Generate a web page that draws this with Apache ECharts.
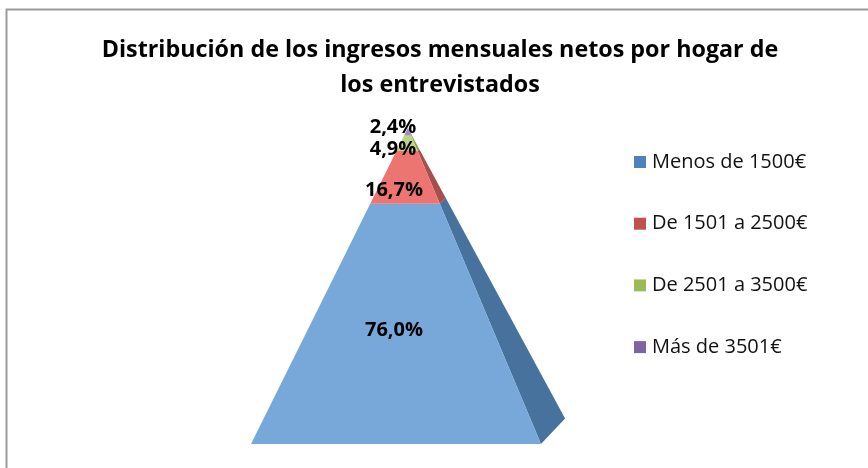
<!DOCTYPE html>
<html><head><meta charset="utf-8">
<style>html,body{margin:0;padding:0;background:#fff}#c{width:868px;height:468px}</style>
<script src="https://cdn.jsdelivr.net/npm/echarts@6/dist/echarts.min.js"></script>
</head><body><div id="c"></div>
<script>
const titleText = 'Distribución de los ingresos mensuales netos por hogar de\nlos entrevistados';
const categories = ['Menos de 1500€', 'De 1501 a 2500€', 'De 2501 a 3500€', 'Más de 3501€'];
const values = [76.0, 16.7, 4.9, 2.4];
const legendColors = ['#4F81BD', '#C0504D', '#9BBB59', '#8064A2'];
const frontColors = ['#78A8DA', '#EC7572', '#BCD67F', '#A687C8'];
const sideColors = ['#47729E', '#A64F4D', '#87A04F', '#6E5590'];
const labelOffsets = [[-2, 6], [-2, 13], [-3, 6], [-3, -4]];

const FONT = '"Open Sans", "Noto Sans", sans-serif';
const APEX = [54.1, 100], BASE_L = [0, 0], BASE_R = [100, 0], BASE_B = [108.3, 8.07];
const lerp = (p, t) => [p[0] + (APEX[0] - p[0]) * t, p[1] + (APEX[1] - p[1]) * t];

const chart = echarts.init(document.getElementById('c'), null, {renderer: 'canvas'});
let acc = 0;
const series = categories.map((name, i) => {
  const from = acc / 100; acc += values[i]; const to = acc / 100;
  return {
    name, type: 'custom', coordinateSystem: 'cartesian2d', clip: false,
    itemStyle: {color: legendColors[i]},
    data: [[from, to, values[i]]],
    renderItem(params, api) {
      const a = api.value(0), b = api.value(1), v = api.value(2);
      const pts = ps => ps.map(p => api.coord(p));
      const front = pts([lerp(BASE_L, a), lerp(BASE_R, a), lerp(BASE_R, b), lerp(BASE_L, b)]);
      const side = pts([lerp(BASE_R, a), lerp(BASE_B, a), lerp(BASE_B, b), lerp(BASE_R, b)]);
      const c = api.coord([50, (a + b) * 50]);
      return {type: 'group', children: [
        {type: 'polygon', shape: {points: side}, style: {fill: sideColors[i]}},
        {type: 'polygon', shape: {points: front}, style: {fill: frontColors[i]}},
        {type: 'text', z2: 10, x: c[0] + labelOffsets[i][0], y: c[1] + labelOffsets[i][1],
         style: {text: v.toFixed(1).replace('.', ',') + '%', fill: '#000', align: 'center',
                 verticalAlign: 'middle', font: 'bold 20px ' + FONT}}
      ]};
    }
  };
});

chart.setOption({
  animation: false,
  backgroundColor: '#fff',
  title: {text: titleText, left: 435, top: 28, textAlign: 'center',
    textStyle: {fontFamily: FONT, fontSize: 23.3, fontWeight: 'bold', color: '#000', lineHeight: 35}},
  grid: {left: 251, top: 128, width: 319, height: 316},
  xAxis: {type: 'value', min: 0, max: 110, show: false},
  yAxis: {type: 'value', min: 0, max: 100, show: false},
  legend: {orient: 'vertical', left: 629, top: 147, itemWidth: 12, itemHeight: 12, itemGap: 41.7,
    icon: 'rect', data: categories,
    textStyle: {fontFamily: FONT, fontSize: 20, color: '#111', padding: [0, 0, 0, 1]}},
  graphic: [{type: 'polyline', silent: true,
    shape: {points: [[6.5, 468], [6.5, 9.5], [868, 9.5]]},
    style: {stroke: '#9a9a9a', lineWidth: 2, fill: null}}],
  series
});
</script></body></html>
